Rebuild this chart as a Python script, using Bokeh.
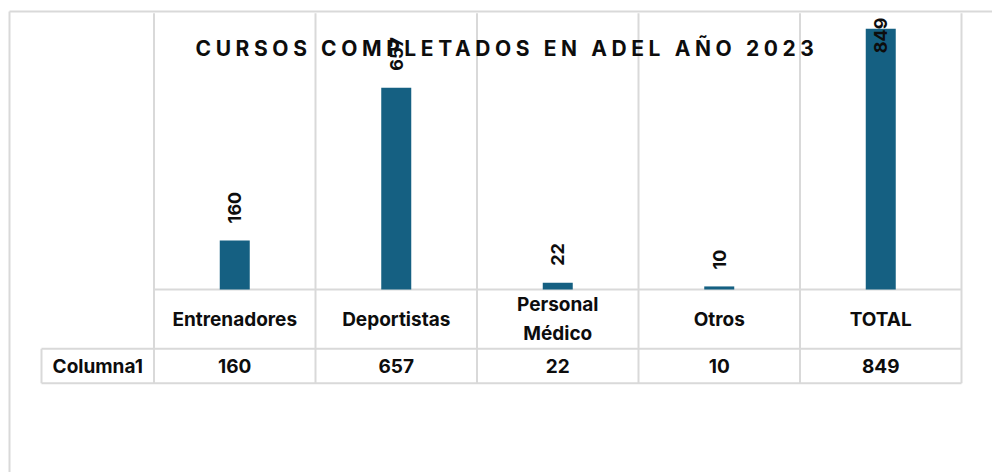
import math
from bokeh.plotting import figure
from bokeh.models import Range1d, ColumnDataSource, Label, InlineStyleSheet
from bokeh.layouts import column
from bokeh.core.properties import value
from bokeh.embed import file_html
from bokeh.resources import INLINE

# ---- data ----
title_text = "CURSOS COMPLETADOS EN ADEL AÑO 2023"
categories = ["Entrenadores", "Deportistas", "Personal\nMédico", "Otros", "TOTAL"]
values = [160, 657, 22, 10, 849]
series_name = "Columna1"
y_axis_max = 900

# ---- layout / style constants ----
W, H = 992, 472
plot_left = 153.5      # px of left edge of first category
cat_w = 161.5          # px per category
base_px = 289.0        # px of value 0
plot_top = 12.7        # px of top of plot area
hdr_bottom = 348.3
tbl_bottom = 382.7
row_hdr_left = 41.0
ppu = (base_px - plot_top) / y_axis_max

GRID = "#d9d9d9"
BAR = "#156082"
TXT = "#0d0d0d"
FONT_NAME = "Inter"
FONT = value(FONT_NAME)
TBL_FS = "19px"
LBL_FS = "18px"

n = len(categories)
idx = list(range(n))

x0 = -0.5 - plot_left / cat_w
x1 = -0.5 + (W - plot_left) / cat_w
y0 = -(H - base_px) / ppu
y1 = base_px / ppu

p = figure(width=W, height=H, x_range=Range1d(x0, x1), y_range=Range1d(y0, y1),
           output_backend="svg", toolbar_location=None, min_border=0,
           x_axis_location=None, y_axis_location=None, outline_line_color=None,
           background_fill_color="white", border_fill_color="white")
p.grid.visible = False
p.extra_y_ranges = {"px": Range1d(H, 0)}
p.extra_x_ranges = {"pxx": Range1d(0, W)}

# outer chart border (top and left)
p.segment(x0=[9, 9], y0=[11, 11], x1=[W, 9], y1=[11, H], x_range_name="pxx",
          y_range_name="px", line_color=GRID, line_width=2)

# vertical grid / table lines at category edges
edges = [i - 0.5 for i in range(n + 1)]
p.segment(x0=edges, y0=[plot_top] * len(edges), x1=edges, y1=[tbl_bottom] * len(edges),
          y_range_name="px", line_color=GRID, line_width=2)
# horizontal table lines
p.segment(x0=[-0.5], y0=[base_px], x1=[n - 0.5], y1=[base_px], y_range_name="px",
          line_color=GRID, line_width=2)
p.segment(x0=[row_hdr_left, row_hdr_left], y0=[hdr_bottom, tbl_bottom],
          x1=[plot_left + n * cat_w] * 2, y1=[hdr_bottom, tbl_bottom],
          x_range_name="pxx", y_range_name="px", line_color=GRID, line_width=2)
p.segment(x0=[row_hdr_left], y0=[hdr_bottom], x1=[row_hdr_left], y1=[tbl_bottom],
          x_range_name="pxx", y_range_name="px", line_color=GRID, line_width=2)

# bars
src = ColumnDataSource(dict(x=idx, top=values, lbl=[str(v) for v in values]))
p.vbar(x="x", top="top", width=30 / cat_w, source=src, fill_color=BAR, line_color=None)

# data labels (rotated), pushed inside when they do not fit
offs = []
for v in values:
    L = 11.0 * len(str(v))
    bar_top = base_px - v * ppu
    start = bar_top - 17
    if start - L < plot_top + 7:
        start = plot_top + 7 + L
    offs.append(start - bar_top)
src.data["off"] = offs
p.text(x="x", y="top", text="lbl", source=src, angle=math.pi / 2, y_offset="off",
       text_align="left", text_baseline="middle", text_font=FONT,
       text_font_style="bold", text_font_size=LBL_FS, text_color=TXT)

# data table: header row (categories)
p.text(x=idx, y=[318.5] * n, text=categories, y_range_name="px",
       text_align="center", text_baseline="middle", text_font=FONT,
       text_font_style="bold", text_font_size=TBL_FS, text_line_height=1.22,
       text_color=TXT)
# data table: values row
p.text(x=idx, y=[365.5] * n, text=[str(v) for v in values], y_range_name="px",
       text_align="center", text_baseline="middle", text_font=FONT,
       text_font_style="bold", text_font_size=TBL_FS, text_color=TXT)
p.text(x=[(row_hdr_left + plot_left) / 2], y=[365.5], text=[series_name],
       x_range_name="pxx", y_range_name="px",
       text_align="center", text_baseline="middle", text_font=FONT,
       text_font_style="bold", text_font_size=TBL_FS, text_color=TXT)

# title (overlay figure so it can use letter spacing)
TH = 70
t = figure(width=W, height=TH, x_range=Range1d(0, W), y_range=Range1d(TH, 0),
           output_backend="svg", toolbar_location=None, min_border=0,
           x_axis_location=None, y_axis_location=None, outline_line_color=None,
           background_fill_alpha=0, border_fill_alpha=0,
           stylesheets=[InlineStyleSheet(css=":host { letter-spacing: 4.6px; }")],
           styles={"position": "absolute", "top": "0px", "left": "0px"})
t.grid.visible = False
t.add_layout(Label(x=195, y=47.5, text=title_text, text_align="left",
                   text_baseline="middle", text_font=FONT_NAME, text_font_style="bold",
                   text_font_size="21px", text_color=TXT))

layout = column(p, t, styles={"position": "relative"})
open("out.html", "w").write(file_html(layout, INLINE))
